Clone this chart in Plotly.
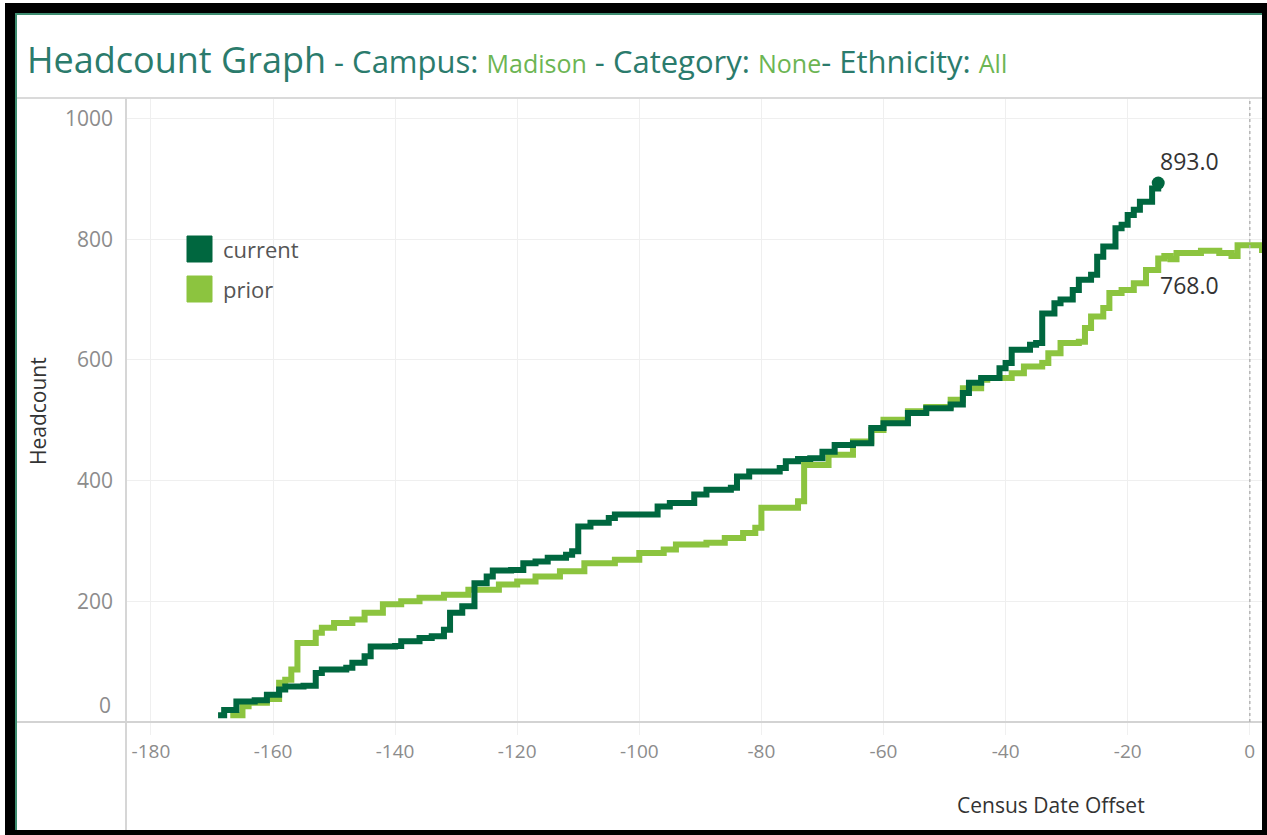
import plotly.graph_objects as go

# ---------------- data ----------------
current_x = [-169, -168, -166, -163, -161, -159, -158, -155, -153, -152, -148, -147, -145, -144,
             -140, -139, -136, -134, -132, -131, -129, -127, -125, -124, -121, -119, -117, -115,
             -112, -111, -110, -108, -105, -104, -97, -95, -91, -89, -85, -84, -82, -79, -77,
             -76, -74, -72, -70, -68, -65, -62, -60, -56, -53, -49, -47, -46, -44, -41, -40,
             -39, -36, -35, -34, -32, -31, -29, -28, -26, -25, -24, -22, -21, -20, -19, -18,
             -16, -15]
current_y = [11, 20, 34, 36, 45, 54, 59, 60, 81, 87, 90, 98, 109, 125,
             126, 134, 139, 142, 153, 181, 192, 230, 241, 251, 252, 263, 266, 272,
             277, 283, 324, 330, 338, 344, 357, 363, 377, 385, 388, 407, 415, 415, 421,
             432, 436, 437, 448, 459, 462, 487, 495, 512, 520, 526, 545, 562, 570, 586, 595,
             617, 625, 628, 677, 694, 700, 716, 733, 741, 771, 788, 818, 824, 840, 849, 862,
             884, 893]

prior_x = [-167, -165, -164, -161, -159, -158, -157, -156, -153, -152, -150, -147, -145, -142,
           -139, -136, -132, -128, -123, -120, -117, -113, -109, -104, -100, -96, -94, -89,
           -86, -83, -81, -80, -77, -74, -73, -69, -65, -62, -60, -56, -53, -49, -47, -44,
           -43, -39, -37, -34, -33, -31, -28, -27, -26, -24, -23, -21, -19, -17, -15, -14,
           -13, -12, -8, -5, -3, -2, 0, 2]
prior_y = [11, 26, 32, 38, 65, 70, 87, 131, 148, 156, 164, 170, 181, 195,
           200, 206, 211, 219, 228, 233, 241, 250, 263, 269, 280, 286, 294, 297,
           305, 313, 322, 355, 355, 366, 426, 443, 465, 484, 501, 515, 522, 534, 553, 567,
           570, 578, 589, 595, 611, 628, 630, 653, 672, 686, 711, 716, 727, 749, 768, 772,
           767, 777, 781, 777, 772, 790, 790, 777]

series_names = ["current", "prior"]
x_ticks = [-180, -160, -140, -120, -100, -80, -60, -40, -20, 0]
y_ticks = [0, 200, 400, 600, 800, 1000]
label_current = 893.0
label_prior = 768.0

# ---------------- style ----------------
C_CUR = "#00673f"
C_PRI = "#8cc43f"
TEAL = "#2b7b6c"
LGREEN = "#6cb553"
FONT = "Open Sans, Noto Sans, sans-serif"

W, H = 1267, 835
L, R, T, B = 126, 1262, 98, 722  # plot area in pixels


def px(xp):
    return (xp - L) / (R - L)


def py(yp):
    return (B - yp) / (B - T)


fig = go.Figure()

fig.add_trace(go.Scatter(x=prior_x, y=prior_y, mode="lines", line_shape="hv",
                         line=dict(color=C_PRI, width=6), name=series_names[1],
                         showlegend=False, hoverinfo="x+y"))
fig.add_trace(go.Scatter(x=current_x, y=current_y, mode="lines", line_shape="hv",
                         line=dict(color=C_CUR, width=6), name=series_names[0],
                         showlegend=False, hoverinfo="x+y"))
fig.add_trace(go.Scatter(x=[current_x[-1]], y=[current_y[-1]], mode="markers",
                         marker=dict(color=C_CUR, size=13), showlegend=False,
                         hoverinfo="skip"))

shapes = [
    # black frame & white card
    dict(type="rect", xref="paper", yref="paper", x0=px(5), x1=px(1267), y0=py(3), y1=py(835),
         fillcolor="black", line_width=0, layer="below"),
    dict(type="rect", xref="paper", yref="paper", x0=px(17), x1=px(1262), y0=py(15), y1=py(830),
         fillcolor="white", line_width=0, layer="below"),
    # teal edges
    dict(type="line", xref="paper", yref="paper", x0=px(15), x1=px(1262), y0=py(14), y1=py(14),
         line=dict(color="#3d8c70", width=2), layer="above"),
    dict(type="line", xref="paper", yref="paper", x0=px(16), x1=px(16), y0=py(13), y1=py(830),
         line=dict(color="#3d8c70", width=2), layer="above"),
    # plot frame lines
    dict(type="line", xref="paper", yref="paper", x0=px(17), x1=px(1262), y0=py(98), y1=py(98),
         line=dict(color="#dadada", width=2), layer="above"),
    dict(type="line", xref="paper", yref="paper", x0=px(126), x1=px(126), y0=py(98), y1=py(830),
         line=dict(color="#d6d6d6", width=2), layer="above"),
    dict(type="line", xref="paper", yref="paper", x0=px(17), x1=px(1262), y0=py(722), y1=py(722),
         line=dict(color="#d3d3d3", width=2), layer="above"),
    # dotted reference at census date
    dict(type="line", xref="x", yref="paper", x0=0, x1=0, y0=0, y1=1,
         line=dict(color="#b5b5b5", width=1.5, dash="dot"), layer="above"),
    # legend swatches
    dict(type="rect", xref="paper", yref="paper", x0=px(187), x1=px(212), y0=py(236), y1=py(262),
         fillcolor=C_CUR, line=dict(color=C_CUR, width=1), layer="above"),
    dict(type="rect", xref="paper", yref="paper", x0=px(187), x1=px(212), y0=py(276), y1=py(302),
         fillcolor=C_PRI, line=dict(color=C_PRI, width=1), layer="above"),
]

title_html = (
    f'<span style="font-size:36px;color:{TEAL}">Headcount Graph</span>'
    f'<span style="font-size:31px;color:{TEAL}"> - Campus: </span>'
    f'<span style="font-size:25px;color:{LGREEN}">Madison</span>'
    f'<span style="font-size:31px;color:{TEAL}"> - Category: </span>'
    f'<span style="font-size:25px;color:{LGREEN}">None</span>'
    f'<span style="font-size:31px;color:{TEAL}">- Ethnicity: </span>'
    f'<span style="font-size:25px;color:{LGREEN}">All</span>'
)

annotations = [
    dict(text=title_html, xref="paper", yref="paper", x=px(25), y=py(59),
         xanchor="left", yanchor="middle", showarrow=False, font=dict(family=FONT)),
    dict(text=series_names[0], xref="paper", yref="paper", x=px(221), y=py(249),
         xanchor="left", yanchor="middle", showarrow=False,
         font=dict(family=FONT, size=22, color="#555555")),
    dict(text=series_names[1], xref="paper", yref="paper", x=px(221), y=py(289),
         xanchor="left", yanchor="middle", showarrow=False,
         font=dict(family=FONT, size=22, color="#555555")),
    dict(text=f"{label_current:.1f}", x=current_x[-1], y=label_current, xref="x", yref="y",
         xanchor="left", yanchor="middle", xshift=0, yshift=22, showarrow=False,
         font=dict(family=FONT, size=23, color="#333333")),
    dict(text=f"{label_prior:.1f}", x=current_x[-1], y=label_prior, xref="x", yref="y",
         xanchor="left", yanchor="middle", xshift=0, yshift=-26, showarrow=False,
         font=dict(family=FONT, size=23, color="#333333")),
    dict(text="Headcount", xref="paper", yref="paper", x=px(38), y=py(411), textangle=-90,
         xanchor="center", yanchor="middle", showarrow=False,
         font=dict(family=FONT, size=21, color="#333333")),
    dict(text="Census Date Offset", xref="paper", yref="paper", x=px(1051), y=py(805),
         xanchor="center", yanchor="middle", showarrow=False,
         font=dict(family=FONT, size=21, color="#333333")),
    dict(text=str(y_ticks[0]), xref="paper", yref="y", x=px(113), y=y_ticks[0], yshift=17,
         xanchor="right", yanchor="middle", showarrow=False,
         font=dict(family=FONT, size=21, color="#8c8c8c")),
]

fig.update_layout(
    width=W, height=H,
    margin=dict(l=L, r=W - R, t=T, b=H - B, pad=0),
    paper_bgcolor="white", plot_bgcolor="white",
    shapes=shapes, annotations=annotations,
    showlegend=False,
    xaxis=dict(range=[-184.08, 2.0], tickvals=x_ticks, ticktext=[str(v) for v in x_ticks],
               showgrid=True, gridcolor="#efefef", gridwidth=1, zeroline=False,
               showline=False, ticks="outside", ticklen=12, tickcolor="#f0f0f0", tickwidth=1,
               tickfont=dict(family=FONT, size=19, color="#8c8c8c")),
    yaxis=dict(range=[0, 1034], tickvals=y_ticks[1:], ticktext=[str(v) for v in y_ticks[1:]],
               showgrid=True, gridcolor="#efefef", gridwidth=1, zeroline=False,
               showline=False, ticks="", ticklabelstandoff=12,
               tickfont=dict(family=FONT, size=21, color="#8c8c8c")),
)

fig.write_html("out.html", config={"displayModeBar": False},
               post_script="document.body.style.margin='0';document.body.style.padding='0';")
